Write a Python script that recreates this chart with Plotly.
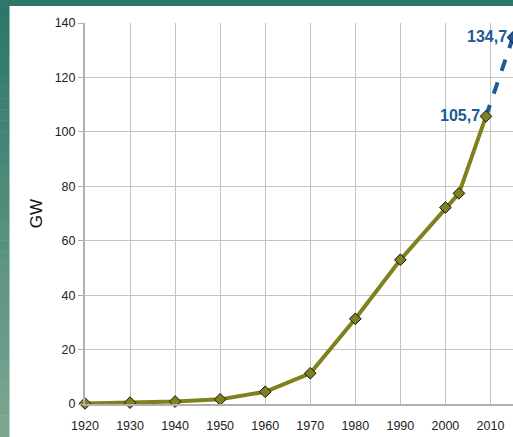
import plotly.graph_objects as go

years = [1920, 1930, 1940, 1950, 1960, 1970, 1980, 1990, 2000, 2003, 2009]
gw = [0.2, 0.5, 0.9, 1.7, 4.5, 11.3, 31.3, 53.0, 72.2, 77.4, 105.7]
proj_years = [2009, 2015]
proj_gw = [105.7, 134.7]
label_years = [2009, 2015]
label_vals = [105.7, 134.7]
label_texts = ["105,7", "134,7"]
y_ticks = [0, 20, 40, 60, 80, 100, 120, 140]
x_ticks = [1920, 1930, 1940, 1950, 1960, 1970, 1980, 1990, 2000, 2010]

W, H = 513, 437
ML, MR, MT, MB = 85, 0, 23, 33
PW, PH = W - ML - MR, H - MT - MB

def px(x):
    return (x - ML) / PW

def py(y):
    return (H - MB - y) / PH

fig = go.Figure()

fig.add_trace(go.Scatter(
    x=proj_years, y=proj_gw, mode="lines",
    line=dict(color="#1b5a98", width=4, dash="dash"),
    hoverinfo="skip", showlegend=False, cliponaxis=False))

fig.add_trace(go.Scatter(
    x=years, y=gw, mode="lines+markers",
    line=dict(color="#80801f", width=4),
    marker=dict(symbol="diamond", size=9, color="#80801f",
                line=dict(color="#111111", width=1)),
    showlegend=False, cliponaxis=False))

fig.add_trace(go.Scatter(
    x=[proj_years[-1]], y=[proj_gw[-1]], mode="markers",
    marker=dict(symbol="diamond", size=9, color="#1b5a98",
                line=dict(color="#111111", width=1)),
    showlegend=False, cliponaxis=False))

for xv, yv, t in zip(label_years, label_vals, label_texts):
    fig.add_annotation(x=xv, y=yv, text="<b>" + t + "</b>", showarrow=False,
                       xanchor="right", yanchor="middle", xshift=-4, yshift=1,
                       font=dict(size=16, color="#1b5a98",
                                 family="Liberation Sans, Arial, sans-serif"))

shapes = []
# teal slide background (gradient bands) on the left
n = 40
c0 = (43, 118, 105)
c1 = (124, 166, 145)
for i in range(n):
    f = i / (n - 1)
    c = tuple(int(round(c0[k] + (c1[k] - c0[k]) * f)) for k in range(3))
    y0 = i * H / n
    y1 = (i + 1) * H / n + 0.5
    shapes.append(dict(type="rect", xref="paper", yref="paper",
                       x0=px(0), x1=px(9.5), y0=py(y1), y1=py(y0),
                       fillcolor="rgb(%d,%d,%d)" % c, line=dict(width=0),
                       layer="above"))
# top teal band
shapes.append(dict(type="rect", xref="paper", yref="paper",
                   x0=px(0), x1=px(W + 2), y0=py(6), y1=py(-2),
                   fillcolor="rgb(45,120,106)", line=dict(width=0),
                   layer="above"))

fig.update_layout(
    width=W, height=H,
    margin=dict(l=ML, r=MR, t=MT, b=MB, autoexpand=False),
    paper_bgcolor="white",
    plot_bgcolor="white",
    font=dict(family="Liberation Sans, Arial, sans-serif", size=12, color="#222222"),
    shapes=shapes,
    xaxis=dict(range=[1920, 2015], tickmode="array", tickvals=x_ticks,
               showgrid=True, gridcolor="#c4c4c4", gridwidth=1,
               showline=True, linecolor="#b0b0b0", linewidth=1.5,
               zeroline=False, ticks="", tickfont=dict(size=12.5),
               ticklabelstandoff=9, automargin=False),
    yaxis=dict(range=[0, 140], tickmode="array", tickvals=y_ticks,
               showgrid=True, gridcolor="#c4c4c4", gridwidth=1,
               showline=True, linecolor="#b0b0b0", linewidth=2,
               zeroline=False, ticks="outside", ticklen=5, tickcolor="#b0b0b0",
               tickfont=dict(size=12.5), automargin=False,
               title=dict(text="GW", font=dict(size=17, color="#111111"), standoff=8)),
)

fig.write_html(
    "out.html",
    config={"displayModeBar": False},
    post_script="document.body.style.margin='0';document.body.style.padding='0';document.body.style.overflow='hidden';window.scrollTo(0,0);",
)
